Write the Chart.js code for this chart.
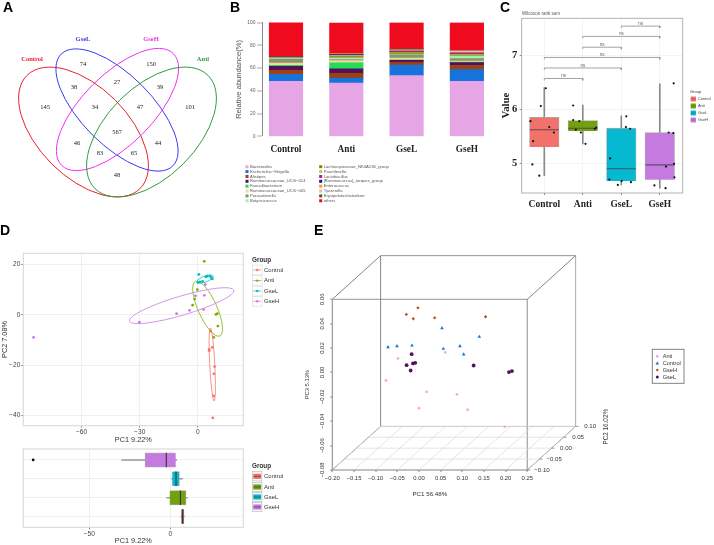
<!DOCTYPE html>
<html><head><meta charset="utf-8">
<script src="https://cdn.jsdelivr.net/npm/chart.js@4/dist/chart.umd.min.js"></script>
<style>html,body{margin:0;padding:0;background:#fff;width:714px;height:545px;overflow:hidden}
canvas{position:absolute;left:0;top:0}</style></head><body>
<script>
// ---------- data ----------
const vennNames=['Control','GseL','GseH','Anti'];
const vennColors=['#E8202C','#3A3AEE','#F030F0','#2E9B3E'];
const vennCounts=[145,74,150,101,38,27,39,34,47,567,46,44,83,65,48];
const vennCountX=[45,83,151,190,74,117,160,95,140,117,77,158,100,134,117];
const vennCountY=[107,64,64,107,87,82,87,107,107,132,143,143,153,153,175];

const barCats=['Control','Anti','GseL','GseH'];
const taxa=['Bacteroides','Escherichia−Shigella','Alistipes','Ruminococcaceae_UCG−014','Faecalibacterium','Ruminococcaceae_UCG−005','Parasutterella','Butyricicoccus','Lachnospiraceae_NK4A136_group','Paurnlerella','Lactobacillus','[Ruminococcus]_torques_group','Enterococcus','Tyzzerella','Erysipelatoclostridium','others'];
const taxaColors=['#E6A6E6','#1673DB','#A0400F','#54105E','#22DD55','#F0D8A0','#90906A','#A0F0B0','#8B7A10','#A8D838','#C010A0','#102080','#F0A020','#F5B0C0','#3A6A10','#F00A1E'];
const abControl=[48.2,6.2,3.6,3.5,0.8,2.0,3.5,1.0,0.4,0.3,0.4,0.1,0.1,0.2,0.0,29.8];
const abAnti=[46.7,4.4,4.2,3.9,5.3,2.0,1.0,1.5,1.0,1.0,0.6,0.4,0.2,0.3,0.2,27.0];
const abGseL=[53.3,9.2,2.6,1.6,0.5,1.5,3.0,0.5,1.2,0.3,0.8,0.4,0.5,0.5,0.8,23.3];
const abGseH=[48.2,10.4,3.6,2.5,0.5,1.0,2.0,2.3,0.5,0.8,1.0,0.4,0.6,1.2,0.5,24.5];
const abTicks=[0,20,40,60,80,100];

const groupNames=['Control','Anti','GseL','GseH'];
const groupColors=['#F8766D','#7CAE00','#00BFC4','#C77CE8'];
const cBoxColors=['#F0726A','#72A010','#06B8D0','#C57ADF'];
const cQ=[[5.3,5.85],[5.6,5.79],[4.67,5.65],[4.7,5.57]];
const cMed=[5.62,5.65,4.9,4.97];
const cWhisk=[[4.77,6.4],[5.36,6.08],[4.6,5.88],[4.54,6.47]];
const cPtX=[[0.04,-0.09,-0.36,0.13,0.25,-0.29,-0.31,-0.13],[0.75,0.75,0.91,0.82,0.95,1.07,1.31,1.35],[2.13,2.12,2.23,1.71,1.69,2.01,2.25,1.91],[3.36,3.23,3.35,3.37,3.16,3.38,2.86,3.15]];
const cPtY=[[6.39,6.06,5.78,5.67,5.57,5.41,4.98,4.77],[6.07,5.80,5.78,5.62,5.57,5.36,5.64,5.66],[5.87,5.67,5.64,5.09,4.70,4.67,4.65,4.60],[6.48,5.57,5.56,4.99,4.94,4.74,4.59,4.54]];
const cBracketFrom=[0,0,0,1,1,2];
const cBracketTo=[1,2,3,2,3,3];
const cBracketVal=[6.57,6.765,6.96,7.15,7.35,7.54];
const cTicks=[5,6,7];

const pcaX=[[7.7,8.1,8.2,8.6,7.4,5.8,5.8,6.5],[3.3,-0.3,-1.7,-2.7,9.3,10,10.3,8.2],[0.5,0,1,2.4,4.1,4.8,6.2,6.9,7.4],[-84.7,-30.2,-11,-4.3,2.9,-1.2,3.3,3.8]];
const pcaY=[[-41,-32.3,-23.5,-20.6,-13,-13.8,-14.3,-6.5],[21.2,10,6.2,3.8,0.1,0.4,-4.5,-9],[16,12.8,13,13.2,15,15.3,15.3,14.7,14.2],[-9,-3,0.4,1.7,2.1,7.5,7.7,12]];
const pcaCentreX=[7.4,5,3.8,-8.4];
const pcaCentreY=[-19.8,2.4,14.2,3.6];
const pcaTicksX=[-60,-30,0];
const pcaTicksY=[-40,-20,0,20];

const pcQ=[[6.8,8.4],[-0.4,9.7],[1.2,5.6],[-15.6,3.3]];
const pcMed=[7.6,6.2,3.5,-2.5];
const pcWhisk=[[6.6,8.6],[-2.3,10.5],[0.8,7.4],[-30,3.9]];
const pcOutlier=[-84.6];
const pcTicks=[-50,0];

const pcoaNames=['Anti','Control','GseH','GseL'];
const pcoaColors=['#F4A7EE','#1673DB','#B5500F','#54105E'];
const pcoaStyles=['circle','triangle','rectRot','circle'];
const pcoaX=[[-0.0485,0.0608,-0.0762,0.0177,0.0877,0,0.1123,0.1977],[0.0531,0.1392,-0.0715,-0.0508,-0.0162,0.0562,0.0946,0.1031],[0.0292,0.1531,0.3262,-0.0023,-0.0292,-0.0131,0.0362,0.1538],[-0.0169,-0.0285,-0.0138,-0.0085,-0.0192,0.1262,0.2077,0.2146]];
const pcoaY=[[0.0115,0.0164,-0.0066,-0.0159,-0.0180,-0.0293,-0.0306,-0.0446],[0.0364,0.0293,0.0208,0.0216,0.0221,0.0194,0.0216,0.0148],[0.0719,0.0730,0.0744,0.0530,0.0476,0.0440,0.0448,0.0457],[0.0150,0.0060,0.0074,0.0079,0.0016,0.0057,0.0003,0.0011]];
const pc1Ticks=[-0.2,-0.15,-0.1,-0.05,0,0.05,0.1,0.15,0.2,0.25];
const pc3Ticks=[-0.08,-0.06,-0.04,-0.02,0,0.02,0.04,0.06];
const pc2Ticks=[-0.1,-0.05,0,0.05,0.1];

// ---------- helpers ----------
const W=714,H=545;
const SANS='"Liberation Sans",Arial,sans-serif', SERIF='"Liberation Serif","Times New Roman",serif';
function mk(plugins,cfg,area){
  const c=document.createElement('canvas');c.width=W;c.height=H;c.style.width=W+'px';c.style.height=H+'px';document.body.appendChild(c);
  cfg.options=Object.assign({responsive:false,animation:false,devicePixelRatio:1,events:[],
    layout:{padding:{left:area.pl,top:area.t,right:W-area.r,bottom:H-area.pb}}},cfg.options);
  cfg.options.plugins=Object.assign({legend:{display:false},tooltip:{enabled:false}},cfg.options.plugins||{});
  cfg.plugins=plugins;
  return new Chart(c.getContext('2d'),cfg);
}
function axis(area,dir,o){
  return {type:'linear',offset:false,display:o.display!==false,min:o.min,max:o.max,
    afterBuildTicks:s=>{s.ticks=o.ticks.map(v=>({value:v}));},
    afterFit:s=>{if(dir==='x')s.height=area.pb-area.b;else s.width=area.l-area.pl;},
    ticks:Object.assign({display:o.showLabels!==false,autoSkip:false,maxRotation:0,font:o.font,color:o.color,padding:o.pad,callback:o.fmt||(v=>String(v).replace('-','−'))},o.tickExtra||{}),
    grid:{display:true,offset:false,color:o.grid||'#ececec',lineWidth:o.gridW===undefined?0.8:o.gridW,drawOnChartArea:o.gridW!==0,drawTicks:o.tick>0,tickLength:o.tick||0,tickColor:o.tickColor||'#555',tickWidth:0.7},
    border:{display:!!o.line,color:o.line||'#000',width:o.lineW||1},
    title:o.title?{display:true,text:o.title,font:o.titleFont,color:o.titleColor||'#333',padding:0}:{display:false}};
}
function T(ctx,s,x,y,font,color,align,rot){
  ctx.save();ctx.font=font;ctx.fillStyle=color;ctx.textAlign=align||'left';ctx.textBaseline='middle';
  ctx.translate(x,y);if(rot)ctx.rotate(rot);ctx.fillText(s,0,0);ctx.restore();
}
function ell(ctx,cx,cy,a,b,deg,color,w){
  ctx.save();ctx.strokeStyle=color;ctx.lineWidth=w;ctx.beginPath();ctx.ellipse(cx,cy,a,b,deg*Math.PI/180,0,Math.PI*2);ctx.stroke();ctx.restore();
}
function frame(color,w){return {id:'frame',afterDatasetsDraw(ch){const a=ch.chartArea,c=ch.ctx;c.save();c.strokeStyle=color;c.lineWidth=w;c.strokeRect(a.left,a.top,a.right-a.left,a.bottom-a.top);c.restore();}};}
const pts=(xs,ys)=>xs.map((x,i)=>({x,y:ys[i]}));

// ---------- A: Venn ----------
{
 const area={l:0,t:0,r:230,b:200,pl:0,pb:200};
 const ellipses=[[83.5,132,80,45,45],[117,110,79,35,45],[117.5,109.5,79,35,-45],[151.5,132,80,45,-45]];
 const nameX=[32,83,151,203],nameY=[59,39,39,59];
 mk([{id:'venn',afterDatasetsDraw(ch){
   const c=ch.ctx,sx=ch.scales.x,sy=ch.scales.y;
   ellipses.forEach((e,i)=>ell(c,sx.getPixelForValue(e[0]),sy.getPixelForValue(e[1]),e[2],e[3],e[4],vennColors[i],1));
   vennNames.forEach((n,i)=>T(c,n,sx.getPixelForValue(nameX[i]),sy.getPixelForValue(nameY[i]),'bold 6.5px '+SERIF,vennColors[i],'center'));
   ch.getDatasetMeta(0).data.forEach((p,i)=>T(c,String(vennCounts[i]),p.x,p.y,'6.5px '+SERIF,'#222','center'));
   T(c,'A',3,8,'bold 14px '+SANS,'#000');
 }}],{type:'scatter',data:{datasets:[{data:pts(vennCountX,vennCountY),pointRadius:0}]},
 options:{scales:{x:axis(area,'x',{display:false,min:0,max:230,ticks:[]}),y:Object.assign(axis(area,'y',{display:false,min:0,max:200,ticks:[]}),{reverse:true})}}},area);
}

// ---------- B: stacked bars ----------
{
 const area={l:262,t:22.5,r:498,b:136.3,pl:234.5,pb:160};
 const rows=[abControl,abAnti,abGseL,abGseH];
 const legX=[247,320.7],legY0=166.7,legDY=4.87;
 mk([{id:'legB',afterDraw(ch){
   const c=ch.ctx;
   taxa.forEach((n,i)=>{const col=i<8?0:1,r=i%8,y=legY0+r*legDY,x=legX[col];
     c.fillStyle=taxaColors[i];c.fillRect(x-1.5,y-1.5,3,3);
     T(c,n,x+3,y,'4.2px '+SANS,'#555');});
   T(c,'B',230,8,'bold 14px '+SANS,'#000');
 }}],{type:'bar',data:{datasets:taxa.map((n,j)=>({label:n,backgroundColor:taxaColors[j],barThickness:33.5,
     data:rows.map((r,i)=>({x:i,y:r[j]}))}))},
 options:{scales:{
   x:Object.assign(axis(area,'x',{min:-0.398,max:3.516,ticks:[0,1,2,3],font:{family:SERIF,weight:'bold',size:9.3},color:'#222',pad:7.5,gridW:0,fmt:v=>barCats[v]}),{stacked:true}),
   y:Object.assign(axis(area,'y',{min:0,max:100,ticks:abTicks,font:{family:SANS,size:5},color:'#666',pad:1.5,gridW:0,tick:5,tickColor:'#888',line:'#888',title:'Relative abundance(%)',titleFont:{family:SANS,size:7.6},titleColor:'#555'}),{stacked:true})
 }}},area);
}

// ---------- C: box plot ----------
{
 const area={l:521.7,t:18.3,r:682.7,b:193,pl:499.6,pb:212};
 const ds=[];
 groupNames.forEach((g,i)=>{
  ds.push({type:'bar',grouped:false,order:5,barThickness:1,backgroundColor:'#8a8a8a',data:[{x:i,y:cWhisk[i]}]});
  ds.push({type:'bar',grouped:false,order:4,barThickness:29.5,backgroundColor:cBoxColors[i],borderColor:'#aaa',borderWidth:0.8,data:[{x:i,y:cQ[i]}]});
  ds.push({type:'scatter',order:3,pointStyle:'line',pointRadius:14.5,pointBorderWidth:1.1,pointBorderColor:'rgba(60,60,60,.75)',data:[{x:i,y:cMed[i]}]});
  ds.push({type:'scatter',order:1,pointRadius:1.1,pointBackgroundColor:'#111',pointBorderWidth:0,data:pts(cPtX[i],cPtY[i])});
 });
 cBracketVal.forEach((v,i)=>{const a=cBracketFrom[i],b=cBracketTo[i];
  ds.push({type:'scatter',order:2,showLine:true,pointRadius:0,borderColor:'#8a8a8a',borderWidth:0.8,
    data:[{x:a,y:v-0.035},{x:a,y:v},{x:b,y:v},{x:b,y:v-0.035}]});});
 const legY=[99,106,113,120];
 mk([frame('#aaa',0.9),{id:'legC',afterDraw(ch){
   const c=ch.ctx,sx=ch.scales.x,sy=ch.scales.y;
   cBracketVal.forEach((v,i)=>T(c,'ns',sx.getPixelForValue((cBracketFrom[i]+cBracketTo[i])/2),sy.getPixelForValue(v)-2.6,'4.5px '+SANS,'#666','center'));
   T(c,'Wilcoxon rank sum',522,13.7,'4.5px '+SANS,'#555');
   T(c,'Group',690,92,'4px '+SANS,'#333');
   groupNames.forEach((g,i)=>{const y=legY[i];c.fillStyle=cBoxColors[i];c.fillRect(690.7,y-2.5,5.2,5);
     c.fillStyle='rgba(60,60,60,.6)';c.fillRect(690.7,y-.3,5.2,.6);
     T(c,g,698,y,'3.9px '+SANS,'#444');});
   T(c,'C',500,8,'bold 14px '+SANS,'#000');
 }}],{type:'bar',data:{datasets:ds},options:{scales:{
   x:axis(area,'x',{min:-0.587,max:3.595,ticks:[0,1,2,3],font:{family:SERIF,weight:'bold',size:9.5},color:'#222',pad:3.5,tick:2,grid:'#f1f1f1',fmt:v=>groupNames[v]}),
   y:axis(area,'y',{min:4.45,max:7.685,ticks:cTicks,font:{family:SERIF,weight:'bold',size:10.5},color:'#222',pad:2.5,tick:2,grid:'#f1f1f1',title:'Value',titleFont:{family:SERIF,weight:'bold',size:10.7},titleColor:'#222'})
 }}},area);
}

// ---------- D top: PCA ----------
{
 const area={l:23.3,t:253.3,r:243.3,b:425.7,pl:0.5,pb:444.4};
 const radii=[[36.6,2.5,87],[29.9,9.4,66],[8.5,3,-20],[54.5,9.5,-16.5]];
 const legY=[270,280.6,291,301.3];
 mk([frame('#d9d9d9',1.1),{id:'pca',afterDatasetsDraw(ch){
   const c=ch.ctx,sx=ch.scales.x,sy=ch.scales.y;
   radii.forEach((r,i)=>ell(c,sx.getPixelForValue(pcaCentreX[i]),sy.getPixelForValue(pcaCentreY[i]),r[0],r[1],r[2],groupColors[i],0.8));
 },afterDraw(ch){
   const c=ch.ctx;
   T(c,'Group',252,260,'bold 6.4px '+SANS,'#333');
   groupNames.forEach((g,i)=>{const y=legY[i];
     c.strokeStyle='#ddd';c.lineWidth=.7;c.strokeRect(252.3,y-4.9,9.8,9.8);
     c.strokeStyle=groupColors[i];c.beginPath();c.moveTo(253.2,y);c.lineTo(261.2,y);c.stroke();
     c.fillStyle=groupColors[i];c.beginPath();c.arc(257.2,y,1.2,0,7);c.fill();
     T(c,g,264,y,'6px '+SANS,'#333');});
   T(c,'D',0,231,'bold 14px '+SANS,'#000');
 }}],{type:'scatter',data:{datasets:groupNames.map((g,i)=>({label:g,pointRadius:1.4,pointBorderWidth:0,pointBackgroundColor:groupColors[i],data:pts(pcaX[i],pcaY[i])}))},
 options:{scales:{
   x:axis(area,'x',{min:-90,max:23.4,ticks:pcaTicksX,font:{family:SANS,size:6.6},color:'#444',pad:1,tick:2,title:'PC1 9.22%',titleFont:{family:SANS,size:7.3}}),
   y:axis(area,'y',{min:-44.1,max:24.4,ticks:pcaTicksY,font:{family:SANS,size:6.6},color:'#444',pad:1,tick:2,title:'PC2 7.08%',titleFont:{family:SANS,size:7.3}})
 }}},area);
}

// ---------- D bottom: horizontal box plot ----------
{
 const area={l:23.3,t:449,r:243.3,b:527.3,pl:0,pb:545};
 const ds=[];
 groupNames.forEach((g,i)=>{
  ds.push({type:'bar',grouped:false,order:4,barThickness:0.9,backgroundColor:'#999',data:[{x:pcWhisk[i],y:i}]});
  ds.push({type:'bar',grouped:false,order:3,barThickness:14.4,backgroundColor:i===0?'#8F4A3F':cBoxColors[i],borderColor:'#aaa',borderWidth:0.8,data:[{x:pcQ[i],y:i}]});
  ds.push({type:'scatter',order:2,pointStyle:'line',pointRotation:90,pointRadius:7.2,pointBorderWidth:1.1,pointBorderColor:'#333',data:[{x:pcMed[i],y:i}]});
 });
 ds.push({type:'scatter',order:1,pointRadius:1.4,pointBorderWidth:0,pointBackgroundColor:'#111',data:[{x:pcOutlier[0],y:3}]});
 const legY=[476.3,487,497,507];
 mk([frame('#d9d9d9',1.1),{id:'box',afterDraw(ch){
   const c=ch.ctx;
   T(c,'Group',252,466,'bold 6.4px '+SANS,'#333');
   groupNames.forEach((g,i)=>{const y=legY[i];
     c.fillStyle=cBoxColors[i];c.fillRect(253.3,y-2.6,7.8,5.2);
     c.strokeStyle='#bbb';c.lineWidth=.7;c.strokeRect(252.5,y-4.6,9.4,9.2);
     c.fillStyle='rgba(50,50,50,.7)';c.fillRect(253.3,y-.4,7.8,.8);
     T(c,g,264,y,'6px '+SANS,'#333');});
 }}],{type:'bar',data:{datasets:ds},options:{indexAxis:'y',scales:{
   x:axis(area,'x',{min:-90.7,max:45,ticks:pcTicks,font:{family:SANS,size:6.6},color:'#444',pad:1,tick:2,title:'PC1 9.22%',titleFont:{family:SANS,size:7.3}}),
   y:axis(area,'y',{min:-0.57,max:3.58,ticks:[0,1,2,3],showLabels:false})
 }}},area);
}

// ---------- E: 3D-style ordination ----------
{
 const area={l:332.3,t:299.3,r:527.3,b:470,pl:303.5,pb:498};
 const x0=-0.2,x1=0.25,y0=-0.08,y1=0.06,dX=0.1115,dY=0.0358;
 const seg=(a,b,c,d,col,w)=>({type:'scatter',showLine:true,clip:false,pointRadius:0,borderColor:col,borderWidth:w,order:5,data:[{x:a,y:b},{x:c,y:d}]});
 const ds=[];
 const floor='#d8d8d8',edge='#666',vert='#adadad';
 pc1Ticks.forEach(v=>ds.push(seg(v,y0,v+dX,y0+dY,floor,0.7)));
 [0.25,0.5,0.75].forEach(f=>ds.push(seg(x0+f*dX,y0+f*dY,x1+f*dX,y0+f*dY,floor,0.7)));
 ds.push(seg(x0+dX,y0+dY,x1+dX,y0+dY,'#bbb',0.8));
 ds.push(seg(x0,y1,x1,y1,'#888',0.9),seg(x0,y0,x0,y1,edge,0.8),seg(x0,y0,x1,y0,edge,0.8));
 ds.push(seg(x0+dX,y1+dY,x1+dX,y1+dY,'#888',0.9),seg(x0+dX,y0+dY,x0+dX,y1+dY,edge,0.8));
 ds.push(seg(x0,y1,x0+dX,y1+dY,edge,0.8),seg(x1,y1,x1+dX,y1+dY,edge,0.8),seg(x0,y0,x0+dX,y0+dY,edge,0.8),seg(x1,y0,x1+dX,y0+dY,edge,0.8));
 ds.push(seg(x1,y0,x1,y1,vert,1.4),seg(x1+dX,y0+dY,x1+dX,y1+dY,vert,1));
 pcoaNames.forEach((n,i)=>ds.push({type:'scatter',order:1,clip:false,pointStyle:pcoaStyles[i],
   pointRadius:[1.4,2.1,1.7,1.9][i],pointBorderWidth:0,pointBackgroundColor:pcoaColors[i],data:pts(pcoaX[i],pcoaY[i])}));
 const fmt=v=>(v<0?'−':'')+Math.abs(v).toFixed(2);
 const legY=[356.3,363.3,370,377];
 mk([{id:'e3d',afterDraw(ch){
   const c=ch.ctx,sx=ch.scales.x,sy=ch.scales.y;
   pc2Ticks.forEach((v,i)=>{const f=i/4,px=sx.getPixelForValue(x1+f*dX),py=sy.getPixelForValue(y0+f*dY);
     c.strokeStyle='#555';c.lineWidth=.6;c.beginPath();c.moveTo(px,py);c.lineTo(px+3,py);c.stroke();
     T(c,fmt(v),px+(v<0?7:8.6),py,'6.1px '+SANS,'#333');});
   T(c,'PC2 16.02%',606.3,426.7,'6.3px '+SANS,'#333','center',-Math.PI/2);
   c.fillStyle='#fff';c.strokeStyle='#777';c.lineWidth=.9;c.strokeRect(652.3,349.3,31.7,34);
   pcoaNames.forEach((n,i)=>{const y=legY[i],x=657.3;c.fillStyle=pcoaColors[i];
     if(i===1){c.beginPath();c.moveTo(x,y-1.8);c.lineTo(x+1.8,y+1.3);c.lineTo(x-1.8,y+1.3);c.fill();}
     else if(i===2){c.beginPath();c.moveTo(x,y-1.6);c.lineTo(x+1.6,y);c.lineTo(x,y+1.6);c.lineTo(x-1.6,y);c.fill();}
     else{c.beginPath();c.arc(x,y,1.5,0,7);c.fill();}
     T(c,n,662.7,y,'5.6px '+SANS,'#333');});
   T(c,'E',314,231,'bold 14px '+SANS,'#000');
 }}],{type:'scatter',data:{datasets:ds},options:{scales:{
   x:axis(area,'x',{min:x0,max:x1,ticks:pc1Ticks,font:{family:SANS,size:5.9},color:'#333',pad:3,tick:2,gridW:0,fmt,title:'PC1 56.48%',titleFont:{family:SANS,size:6.2}}),
   y:axis(area,'y',{min:y0,max:y1,ticks:pc3Ticks,font:{family:SANS,size:5.9},color:'#333',pad:0.5,tick:2,gridW:0,fmt,tickExtra:{minRotation:90,maxRotation:90,crossAlign:'center'},title:'PC3 5.13%',titleFont:{family:SANS,size:5.8}})
 }}},area);
}
</script></body></html>
